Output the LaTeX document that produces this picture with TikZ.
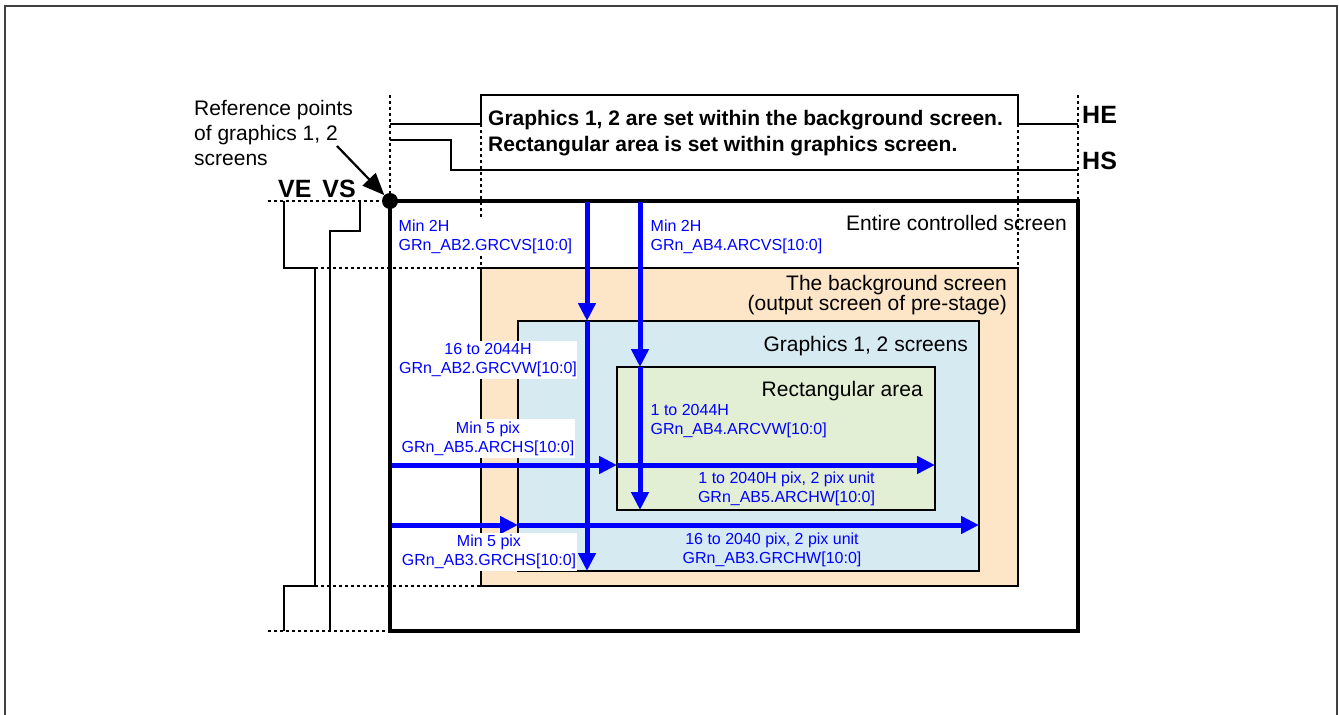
\documentclass[tikz,border=0pt]{standalone}
\usepackage{fontspec}
\setmainfont{Liberation Sans}
\usetikzlibrary{arrows.meta}
\definecolor{peach}{RGB}{253,229,200}
\definecolor{skyblue}{RGB}{214,234,242}
\definecolor{leafgreen}{RGB}{226,239,212}
\definecolor{regblue}{RGB}{0,0,255}
\definecolor{framegray}{RGB}{64,64,64}

\begin{document}
\begin{tikzpicture}[x=1pt,y=-1pt,
  screen/.style={draw=black,line width=2.5pt},
  guide/.style={line width=1.5pt,dash pattern=on 3pt off 3pt},
  timing/.style={line width=1.8pt},
  dimarrow/.style={regblue,line width=5pt,-{Triangle[length=18pt,width=17pt]}},
  reglabel/.style={regblue,font=\fontsize{16}{19}\selectfont,inner sep=0.5pt},
  namelabel/.style={font=\fontsize{21}{20}\selectfont,inner sep=0pt},
  signame/.style={font=\bfseries\fontsize{25}{28}\selectfont,inner sep=0pt}]
\useasboundingbox (0,0) rectangle (1339,715);
% Frame
\draw[framegray,line width=2pt] (5,730) -- (5,6) -- (1337,6) -- (1337,730);
% Screens
\draw[screen,line width=3.5pt] (390,201) rectangle (1078,631);
\draw[screen,fill=peach] (481,268) rectangle (1018,586);
\draw[screen,fill=skyblue] (518,321) rectangle (979,571);
\draw[screen,fill=leafgreen] (617,367) rectangle (935,510);
% Timing lines
\draw[guide] (390,95) -- (390,201);
\draw[guide] (481,124) -- (481,268);
\draw[guide] (1018,124) -- (1018,268);
\draw[guide] (1078,95) -- (1078,201);
\draw[guide] (268,201) -- (390,201);
\draw[guide] (315,268) -- (481,268);
\draw[guide] (315,586) -- (481,586);
\draw[guide] (268,631) -- (390,631);
\draw[timing] (390,124) -- (481,124) -- (481,95) -- (1018,95) -- (1018,124) -- (1078,124);
\draw[timing] (390,140) -- (451,140) -- (451,170) -- (1078,170);
\draw[timing] (284,201) -- (284,268) -- (315,268) -- (315,586) -- (284,586) -- (284,631);
\draw[timing] (360,201) -- (360,231) -- (330,231) -- (330,631);
% Box text
\node[namelabel,font=\bfseries\fontsize{21}{26}\selectfont,anchor=north west,align=left] (rule)
  at (488,110.5) {Graphics 1, 2 are set within the background screen.\\Rectangular area is set within graphics screen.};
\node[signame,anchor=base west] (he) at (1082,123) {HE};
\node[signame,anchor=base west] (hs) at (1082,169) {HS};
\node[signame,anchor=base west] (vevs) at (278,197) {VE\hspace{4pt} VS};
% Points on the screen edges
\coordinate (cvstop) at (587,202);
\coordinate (cvwtop) at (587,321);
\coordinate (cvwend) at (587,571);
\coordinate (avstop) at (640,202);
\coordinate (avwtop) at (640,367);
\coordinate (avwend) at (640,510);
\coordinate (ahsleft) at (392,465);
\coordinate (ahwleft) at (617,465);
\coordinate (ahwend) at (935,465);
\coordinate (ghsleft) at (392,525);
\coordinate (ghwleft) at (518,525);
\coordinate (ghwend) at (979,525);
% Blue arrows
\draw[dimarrow] (cvstop) -- (cvwtop);
\draw[dimarrow] (cvwtop) -- (cvwend);
\draw[dimarrow] (avstop) -- (avwtop);
\draw[dimarrow] (avwtop) -- (avwend);
\draw[dimarrow] (ahsleft) -- (ahwleft);
\draw[dimarrow] (ahwleft) -- (ahwend);
\draw[dimarrow] (ghsleft) -- (ghwleft);
\draw[dimarrow] (ghwleft) -- (ghwend);
% Screen names
\node[namelabel,anchor=base east] (entire) at (1067,230) {Entire controlled screen};
\node[namelabel,anchor=north east,align=right] (backgr) at (1007,275.5) {The background screen\\(output screen of pre-stage)};
\node[namelabel,anchor=base east] (graph) at (968,351.5) {Graphics 1, 2 screens};
\node[namelabel,anchor=base east] (rectarea) at (923,396.5) {Rectangular area};
% Register labels
\node[reglabel,fill=white,anchor=north west,align=left] (grcvs) at (398,219.5) {Min 2H\\GRn\_AB2.GRCVS[10:0]};
\node[reglabel,anchor=north west,align=left] (arcvs) at (650,219.5) {Min 2H\\GRn\_AB4.ARCVS[10:0]};
\node[reglabel,fill=white,inner ysep=2.5pt,align=center] (grcvw) at (488,360) {16 to 2044H\\GRn\_AB2.GRCVW[10:0]};
\node[reglabel,fill=white,inner ysep=2.5pt,align=center] (archs) at (488,438.5) {Min 5 pix\\GRn\_AB5.ARCHS[10:0]};
\node[reglabel,fill=white,inner ysep=2.5pt,align=center] (grchs) at (489,552) {Min 5 pix\\GRn\_AB3.GRCHS[10:0]};
\node[reglabel,anchor=north west,align=left] (arcvw) at (650,403.5) {1 to 2044H\\GRn\_AB4.ARCVW[10:0]};
\node[reglabel,anchor=north,align=center] (archw) at (786.5,471.5) {1 to 2040H pix, 2 pix unit\\GRn\_AB5.ARCHW[10:0]};
\node[reglabel,anchor=north,align=center] (grchw) at (772,532.5) {16 to 2040 pix, 2 pix unit\\GRn\_AB3.GRCHW[10:0]};
% Reference point
\node[namelabel,font=\fontsize{21}{25}\selectfont,anchor=north west,align=left] (refnote)
  at (194,100.5) {Reference points\\of graphics 1, 2\\screens};
\node[circle,fill=black,inner sep=0pt,minimum size=16pt] (refdot) at (390,201) {};
\coordinate (refstart) at (337,146);
\draw[line width=2.2pt,-{Triangle[length=22pt,width=18pt]}] (refstart) -- (refdot);
\end{tikzpicture}
\end{document}
